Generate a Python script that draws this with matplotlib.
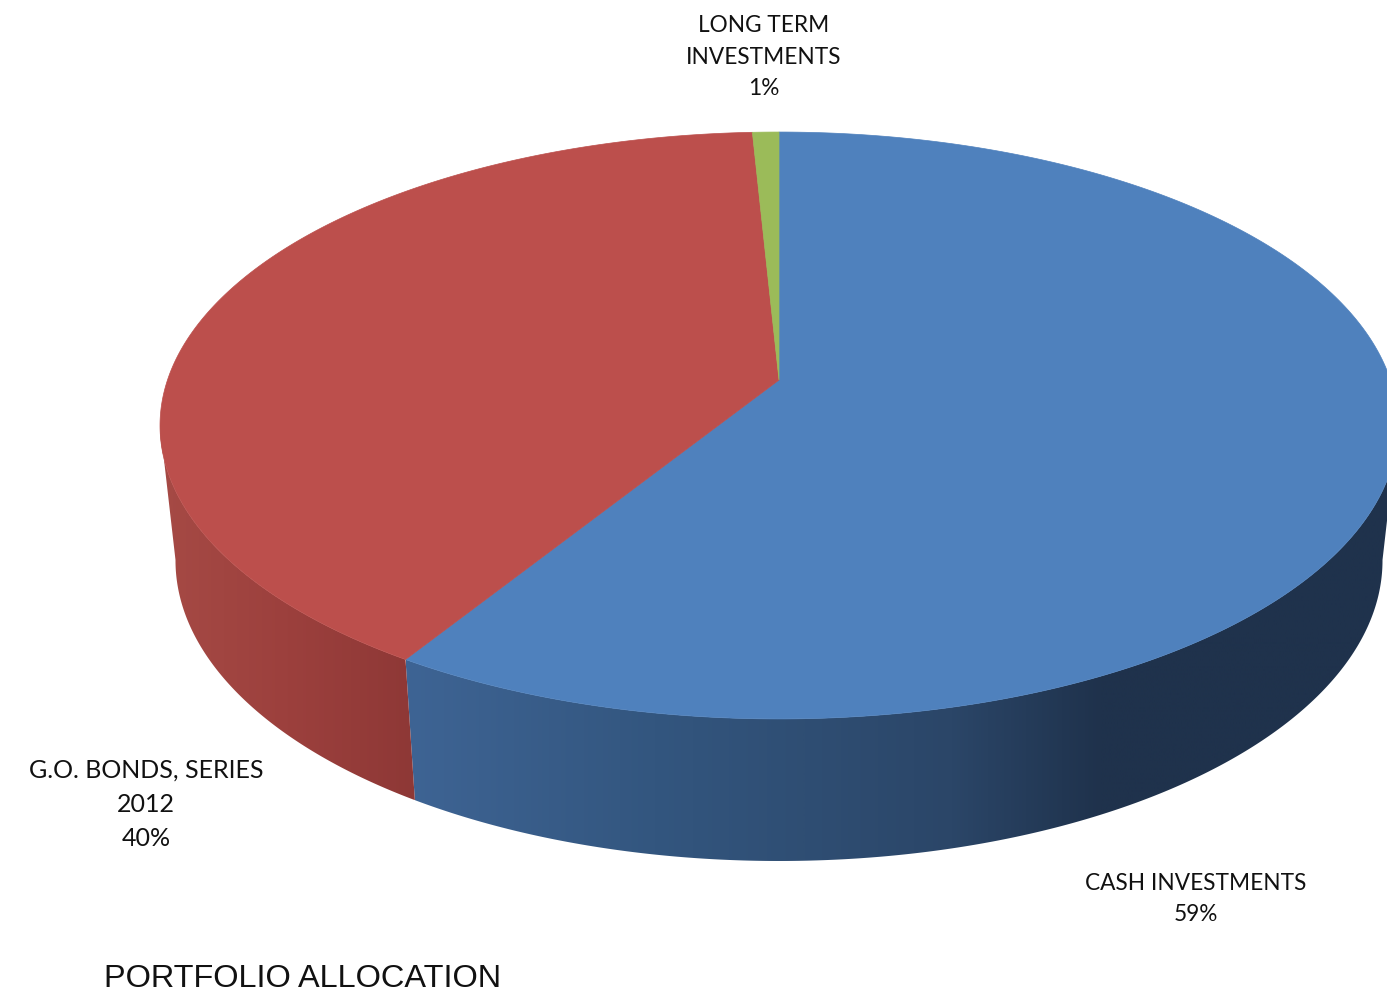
import numpy as np
import matplotlib
matplotlib.use("Agg")
import matplotlib.pyplot as plt
from matplotlib.patches import Polygon
from matplotlib.colors import LinearSegmentedColormap

labels = ["CASH INVESTMENTS\n59%", "G.O. BONDS, SERIES\n2012\n40%", "LONG TERM\nINVESTMENTS\n1%"]
values = [58.9, 40.3, 0.8]
top_colors = ["#4F81BD", "#BC4F4C", "#9BBB59"]
side_stops = [
    [(0.0, "#3E6494"), (0.25, "#33567F"), (0.55, "#2B4668"), (0.70, "#1F324C"), (1.0, "#1F324C")],
    [(0.0, "#A64A45"), (0.5, "#9C403D"), (1.0, "#8E3836")],
    [(0.0, "#7A9445"), (1.0, "#7A9445")],
]
title = "PORTFOLIO ALLOCATION"
label_xy = [(1196, 899), (146, 804), (764, 57)]
label_spacing = [1.64, 1.6, 1.62]
label_sizes = [16.3, 18.0, 16.3]
W, H = 1387, 993
cx, cy = 779.0, 380.0
yc = 425.0
A, B, K = 611.5, 286.4, 0.155
BOT_SX, BOT_SY, BOT_DY = 0.975, 1.024, 135.0
FRONT_MARGIN = 0.154


def top(theta):
    u, v = np.sin(theta), np.cos(theta)
    d = 1 + K * v
    return cx + A * u / d, cy - B * v / d


def bottom(theta):
    x, y = top(theta)
    return cx + (x - cx) * BOT_SX, yc + (y - yc) * BOT_SY + BOT_DY


fig = plt.figure(figsize=(W / 100, H / 100), dpi=100)
ax = fig.add_axes([0, 0, 1, 1])

edges = np.concatenate([[0], np.cumsum(values)]) / sum(values) * 2 * np.pi
# side walls, visible on the front half
for i in range(len(values)):
    lo = max(edges[i], np.pi / 2 + FRONT_MARGIN)
    hi = min(edges[i + 1], 3 * np.pi / 2 - FRONT_MARGIN)
    if hi <= lo:
        continue
    th = np.linspace(lo, hi, 400)
    xt, yt = top(th)
    xb, yb = bottom(th)
    pts = np.column_stack([np.r_[xt, xb[::-1]], np.r_[yt, yb[::-1]]])
    wall = Polygon(pts, closed=True, facecolor="none", edgecolor="none", zorder=2)
    ax.add_patch(wall)
    x0 = pts[:, 0].min()
    x1 = pts[:, 0].max()
    y0 = pts[:, 1].min()
    y1 = pts[:, 1].max()
    cmap = LinearSegmentedColormap.from_list(f"side{i}", side_stops[i])
    im = ax.imshow(np.linspace(0, 1, 512)[None, :], cmap=cmap, extent=(x0, x1, y1, y0),
                   aspect="auto", zorder=2, interpolation="bilinear")
    im.set_clip_path(wall)
# top faces
for i in range(len(values)):
    th = np.linspace(edges[i], edges[i + 1], 300)
    x, y = top(th)
    pts = np.column_stack([np.r_[cx, x], np.r_[cy, y]])
    ax.add_patch(Polygon(pts, closed=True, facecolor=top_colors[i], edgecolor=top_colors[i],
                         lw=0.5, zorder=3))

ax.set_xlim(0, W)
ax.set_ylim(H, 0)
ax.axis("off")

for text, (x, y), ls, fs in zip(labels, label_xy, label_spacing, label_sizes):
    ax.text(x, y, text, ha="center", va="center", fontsize=fs, family="Lato",
            color="#111111", linespacing=ls)
ax.text(104, 979, title, ha="left", va="center", fontsize=23.4, family="Liberation Sans", color="#111111")
fig.savefig("out.png", dpi=100)
